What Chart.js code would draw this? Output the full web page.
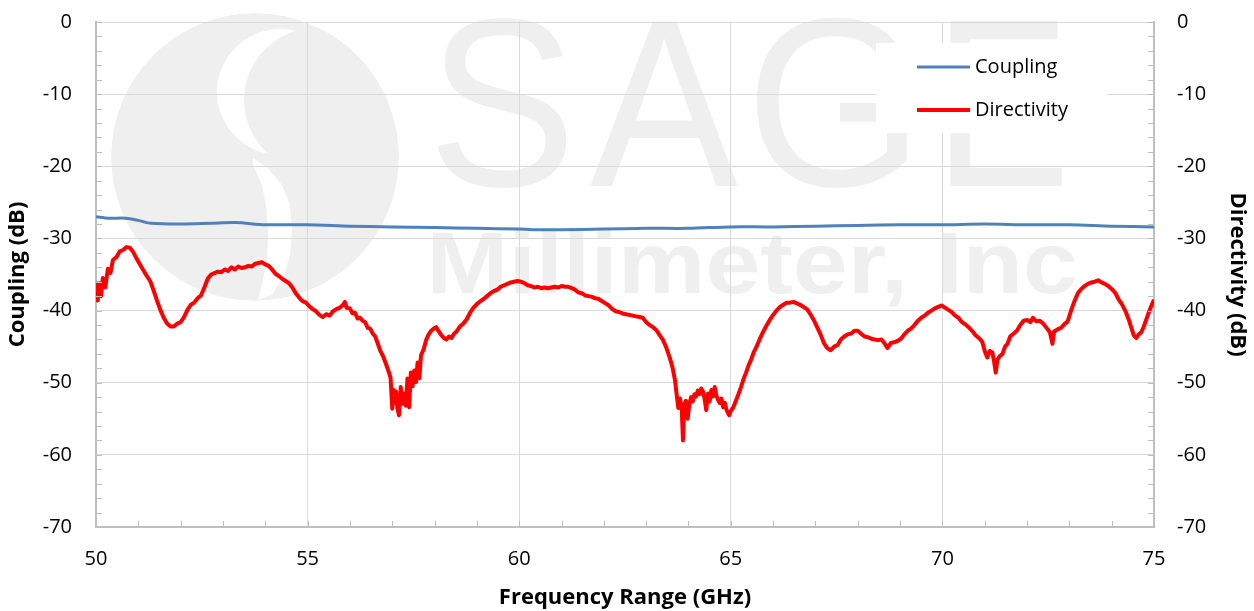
<!DOCTYPE html>
<html>
<head>
<meta charset="utf-8">
<script src="https://cdn.jsdelivr.net/npm/chart.js@4.4.1/dist/chart.umd.min.js"></script>
<style>
  html, body { margin: 0; padding: 0; background: #fff; }
  #wrap { width: 1254px; height: 611px; position: relative; }
</style>
</head>
<body>
<div id="wrap"><canvas id="chart"></canvas></div>
<script>
// axis ranges / ticks
const xTicks = [50, 55, 60, 65, 70, 75];
const yTicks = [0, -10, -20, -30, -40, -50, -60, -70];

// Coupling (dB) vs frequency (GHz)
const couplingFreq = [50.0, 50.3, 50.7, 51.0, 51.3, 52.0, 52.7, 53.3, 54.0, 55.0, 56.0, 57.0, 58.0, 59.0, 60.0, 60.5,
  61.0, 62.0, 63.0, 64.0, 65.0, 66.0, 67.0, 68.0, 69.0, 70.0, 71.0, 72.0, 73.0, 74.0, 75.0];
const couplingDb = [-27.0, -27.2, -27.2, -27.5, -27.9, -28.0, -27.9, -27.8, -28.1, -28.1, -28.3, -28.4, -28.5, -28.6, -28.7, -28.8,
  -28.8, -28.7, -28.6, -28.6, -28.4, -28.4, -28.3, -28.2, -28.1, -28.1, -28.0, -28.1, -28.1, -28.3, -28.4];

// Directivity (dB) vs frequency (GHz)
const directivityFreq = [
  50.00, 50.04, 50.08, 50.12, 50.16, 50.22, 50.28, 50.34, 50.40, 50.48, 50.56, 50.64, 50.72, 50.80, 50.88, 50.96,
  51.04, 51.12, 51.20, 51.28, 51.36, 51.44, 51.52, 51.60, 51.68, 51.76, 51.84, 51.92, 52.00, 52.08, 52.16, 52.24,
  52.32, 52.40, 52.48, 52.56, 52.64, 52.72, 52.80, 52.88, 52.96, 53.04, 53.12, 53.20, 53.28, 53.36, 53.44, 53.52,
  53.60, 53.68, 53.76, 53.84, 53.92, 54.00, 54.08, 54.16, 54.24, 54.32, 54.40, 54.48, 54.56, 54.64, 54.72, 54.80,
  54.88, 54.96, 55.04, 55.12, 55.20, 55.28, 55.36, 55.44, 55.52, 55.60, 55.68, 55.76, 55.84, 55.88, 55.92, 56.00,
  56.06, 56.12, 56.18, 56.24, 56.30, 56.36, 56.42, 56.48, 56.54, 56.60, 56.66, 56.72, 56.78, 56.84, 56.90, 56.96,
  57.00, 57.03, 57.06, 57.09, 57.12, 57.16, 57.20, 57.24, 57.28, 57.32, 57.36, 57.40, 57.44, 57.48, 57.52, 57.56,
  57.60, 57.64, 57.68, 57.74, 57.80, 57.86, 57.92, 57.98, 58.04, 58.10, 58.16, 58.22, 58.28, 58.34, 58.40, 58.46,
  58.52, 58.60, 58.68, 58.76, 58.84, 58.92, 59.00, 59.08, 59.16, 59.24, 59.32, 59.40, 59.48, 59.56, 59.64, 59.72,
  59.80, 59.88, 59.96, 60.04, 60.12, 60.20, 60.28, 60.36, 60.44, 60.52, 60.60, 60.68, 60.76, 60.84, 60.92, 61.00,
  61.08, 61.16, 61.24, 61.32, 61.40, 61.48, 61.56, 61.64, 61.72, 61.80, 61.88, 61.96, 62.04, 62.12, 62.20, 62.28,
  62.36, 62.44, 62.52, 62.60, 62.68, 62.76, 62.84, 62.92, 63.00, 63.08, 63.16, 63.24, 63.32, 63.40, 63.48, 63.56,
  63.62, 63.68, 63.72, 63.76, 63.80, 63.84, 63.87, 63.90, 63.94, 63.98, 64.02, 64.06, 64.10, 64.14, 64.18, 64.22,
  64.26, 64.30, 64.34, 64.38, 64.42, 64.46, 64.50, 64.54, 64.58, 64.62, 64.66, 64.70, 64.74, 64.78, 64.82, 64.86,
  64.90, 64.96, 65.00, 65.06, 65.12, 65.18, 65.24, 65.30, 65.36, 65.42, 65.48, 65.54, 65.60, 65.68, 65.76, 65.84,
  65.92, 66.00, 66.08, 66.16, 66.24, 66.32, 66.40, 66.48, 66.56, 66.64, 66.72, 66.80, 66.88, 66.96, 67.04, 67.12,
  67.20, 67.28, 67.36, 67.44, 67.52, 67.60, 67.68, 67.76, 67.84, 67.92, 68.00, 68.08, 68.16, 68.24, 68.32, 68.40,
  68.48, 68.56, 68.64, 68.70, 68.78, 68.86, 68.94, 69.02, 69.10, 69.18, 69.26, 69.34, 69.42, 69.50, 69.58, 69.66,
  69.74, 69.82, 69.90, 69.98, 70.06, 70.14, 70.22, 70.30, 70.38, 70.46, 70.54, 70.62, 70.70, 70.78, 70.86, 70.94,
  71.00, 71.06, 71.12, 71.18, 71.22, 71.26, 71.30, 71.36, 71.42, 71.48, 71.54, 71.60, 71.68, 71.76, 71.84, 71.92,
  72.00, 72.08, 72.14, 72.22, 72.30, 72.38, 72.46, 72.54, 72.60, 72.64, 72.72, 72.80, 72.88, 72.96, 73.04, 73.12,
  73.20, 73.28, 73.36, 73.44, 73.52, 73.60, 73.68, 73.76, 73.84, 73.92, 74.00, 74.08, 74.16, 74.24, 74.32, 74.40,
  74.46, 74.52, 74.58, 74.64, 74.70, 74.76, 74.82, 74.88, 74.94, 75.00];
const directivityDb = [
  -36.0, -38.6, -36.2, -38.0, -35.5, -36.8, -34.2, -34.8, -33.0, -32.6, -31.8, -31.6, -31.2, -31.3, -31.9, -32.8,
  -33.6, -34.4, -35.2, -35.9, -37.2, -38.6, -39.9, -41.0, -41.8, -42.2, -42.2, -41.8, -41.6, -40.9, -39.9, -39.2,
  -38.9, -38.3, -37.9, -36.8, -35.6, -35.0, -34.8, -34.6, -34.7, -34.3, -34.5, -34.0, -34.3, -33.9, -34.1, -34.0,
  -33.8, -33.9, -33.5, -33.4, -33.3, -33.6, -33.8, -34.3, -34.9, -35.2, -35.6, -35.9, -36.2, -36.8, -37.6, -38.2,
  -38.7, -38.9, -39.4, -39.8, -40.1, -40.6, -40.9, -40.5, -40.7, -40.1, -39.8, -39.6, -39.2, -38.8, -39.6, -39.7,
  -40.4, -40.3, -41.1, -41.0, -41.4, -41.6, -42.4, -42.5, -43.2, -43.6, -44.6, -45.6, -46.3, -47.2, -48.2, -49.3,
  -53.6, -51.0, -52.8, -51.2, -53.5, -54.5, -50.6, -52.9, -51.5, -53.2, -49.4, -53.4, -48.6, -50.5, -48.3, -49.9,
  -47.2, -49.4, -46.2, -45.4, -44.1, -43.3, -42.8, -42.5, -42.3, -42.9, -43.4, -43.8, -44.0, -43.6, -43.8, -43.2,
  -42.9, -42.2, -41.8, -41.2, -40.3, -39.6, -39.1, -38.7, -38.4, -38.0, -37.6, -37.3, -37.1, -36.7, -36.5, -36.3,
  -36.1, -36.0, -35.9, -36.0, -36.2, -36.5, -36.6, -36.8, -36.7, -36.9, -36.8, -36.9, -36.8, -36.7, -36.8, -36.6,
  -36.7, -36.7, -36.9, -37.1, -37.5, -37.6, -37.9, -38.0, -38.1, -38.3, -38.4, -38.7, -39.0, -39.3, -39.8, -40.1,
  -40.2, -40.4, -40.5, -40.6, -40.7, -40.8, -40.9, -41.0, -41.6, -42.0, -42.3, -42.7, -43.4, -44.1, -45.2, -46.6,
  -47.8, -49.6, -51.6, -53.5, -52.2, -53.6, -58.0, -53.0, -52.5, -55.0, -53.0, -52.0, -52.6, -51.6, -51.9, -51.1,
  -51.6, -50.8, -51.2, -52.2, -53.8, -51.5, -52.6, -51.0, -51.9, -50.6, -51.8, -52.4, -52.8, -52.2, -53.4, -52.8,
  -53.8, -54.5, -53.9, -53.4, -52.5, -51.6, -50.6, -49.5, -48.6, -47.6, -46.8, -45.8, -45.1, -44.0, -43.0, -42.1,
  -41.3, -40.6, -40.0, -39.5, -39.2, -38.9, -38.9, -38.8, -39.0, -39.2, -39.5, -39.8, -40.5, -41.3, -42.3, -43.3,
  -44.5, -45.2, -45.5, -45.0, -44.8, -44.0, -43.6, -43.3, -43.2, -42.8, -42.8, -43.2, -43.6, -43.7, -43.9, -44.0,
  -44.1, -44.0, -44.6, -45.2, -44.5, -44.4, -44.2, -43.9, -43.3, -42.8, -42.5, -42.0, -41.4, -41.0, -40.7, -40.3,
  -40.0, -39.7, -39.5, -39.3, -39.6, -39.9, -40.2, -40.7, -41.0, -41.6, -41.9, -42.3, -42.8, -43.4, -43.8, -44.3,
  -45.6, -46.5, -45.6, -45.8, -47.0, -48.6, -46.8, -46.3, -46.0, -45.0, -44.6, -43.6, -43.2, -42.8, -42.0, -41.4,
  -41.3, -41.6, -41.0, -41.5, -41.4, -41.8, -42.4, -43.0, -44.6, -42.9, -42.6, -42.4, -41.9, -41.5, -40.0, -38.7,
  -37.6, -37.0, -36.6, -36.3, -36.1, -36.0, -35.8, -36.1, -36.3, -36.6, -37.0, -37.5, -38.4, -39.1, -40.0, -41.2,
  -42.3, -43.4, -43.8, -43.3, -43.0, -42.2, -41.2, -40.2, -39.3, -38.5];

const seriesNames = ['Coupling', 'Directivity'];
const seriesColors = ['#4f81bd', '#ff0000'];

const toPoints = (xs, ys) => xs.map((x, i) => ({ x: x, y: ys[i] }));

Chart.defaults.font.family = "'Open Sans', sans-serif";
Chart.defaults.color = '#000';

// fit one glyph/string horizontally between x0 and x1
function fitText(c, str, x0, x1, baseline) {
  const m = c.measureText(str);
  const w = m.actualBoundingBoxLeft + m.actualBoundingBoxRight;
  c.save();
  c.translate(x0, 0);
  c.scale((x1 - x0) / w, 1);
  c.fillText(str, m.actualBoundingBoxLeft, baseline);
  c.restore();
}

// faint company watermark behind the plot
const watermark = {
  id: 'watermark',
  beforeDraw(chart) {
    const c = chart.ctx;
    const grey = '#efefef';
    const circle = (x, y, r, col) => {
      c.fillStyle = col;
      c.beginPath();
      c.arc(x, y, r, 0, Math.PI * 2);
      c.fill();
    };
    c.save();
    // logo: grey disc with a white "S" cut through it
    c.beginPath();
    c.arc(255, 157, 144, 0, Math.PI * 2);
    c.clip();
    circle(255, 157, 144, grey);
    circle(280, 92, 63, '#fff');
    circle(316, 100, 72, grey);
    const lower = [[253, 158], [268, 168], [282, 185], [290, 205], [292, 230], [290, 255], [284, 275],
      [272, 295], [258, 300], [262, 285], [267, 260], [268, 235], [266, 205], [262, 185], [253, 165]];
    c.fillStyle = '#fff';
    c.beginPath();
    lower.forEach(([x, y], i) => (i ? c.lineTo(x, y) : c.moveTo(x, y)));
    c.closePath();
    c.fill();
    c.restore();

    c.save();
    c.fillStyle = grey;
    c.textBaseline = 'alphabetic';
    c.font = "240px 'Liberation Sans', sans-serif";
    [['S', 437, 567], ['A', 590, 738], ['G', 757, 907], ['E', 950, 1062]]
      .forEach(([ch, x0, x1]) => fitText(c, ch, x0, x1, 186));
    c.font = "bold 87px 'Liberation Sans', sans-serif";
    fitText(c, 'Millimeter, Inc', 432, 1075, 293);
    c.restore();
  }
};

// small inside tick marks + legend box
const extras = {
  id: 'extras',
  afterDraw(chart) {
    const c = chart.ctx;
    const xs = chart.scales.x, ys = chart.scales.y, area = chart.chartArea;
    c.save();
    c.strokeStyle = '#bfbfbf';
    c.lineWidth = 1;
    c.beginPath();
    for (let v = 50; v <= 75; v += 1) {
      const px = Math.round(xs.getPixelForValue(v)) + 0.5;
      c.moveTo(px, area.bottom);
      c.lineTo(px, area.bottom - 6);
    }
    for (let v = 0; v >= -70; v -= 2) {
      const py = Math.round(ys.getPixelForValue(v)) + 0.5;
      c.moveTo(area.left, py);
      c.lineTo(area.left + 6, py);
      c.moveTo(area.right, py);
      c.lineTo(area.right - 6, py);
    }
    c.stroke();

    // legend
    c.fillStyle = '#fff';
    c.fillRect(876, 43, 231, 90);
    c.font = "20px 'Open Sans', sans-serif";
    c.textBaseline = 'middle';
    c.textAlign = 'left';
    seriesNames.forEach((name, i) => {
      const y = 67 + i * 43;
      c.strokeStyle = seriesColors[i];
      c.lineWidth = i === 0 ? 3 : 4;
      c.beginPath();
      c.moveTo(917, y);
      c.lineTo(970, y);
      c.stroke();
      c.fillStyle = '#000';
      c.fillText(name, 975, y);
    });
    c.restore();
  }
};

const tickFont = { size: 20 };
const titleFont = { size: 22, weight: 'bold' };

new Chart(document.getElementById('chart'), {
  type: 'line',
  data: {
    datasets: [
      {
        label: seriesNames[0],
        data: toPoints(couplingFreq, couplingDb),
        borderColor: seriesColors[0],
        borderWidth: 3,
        pointRadius: 0,
        tension: 0.3,
        yAxisID: 'y'
      },
      {
        label: seriesNames[1],
        data: toPoints(directivityFreq, directivityDb),
        borderColor: seriesColors[1],
        borderWidth: 4,
        pointRadius: 0,
        tension: 0,
        borderJoinStyle: 'round',
        yAxisID: 'y2'
      }
    ]
  },
  options: {
    responsive: true,
    maintainAspectRatio: false,
    animation: false,
    layout: { padding: { top: 22, left: 0, right: 0, bottom: 0 } },
    plugins: {
      legend: { display: false },
      tooltip: { enabled: false }
    },
    scales: {
      x: {
        type: 'linear',
        min: 50,
        max: 75,
        afterBuildTicks: s => { s.ticks = xTicks.map(v => ({ value: v })); },
        ticks: { font: tickFont, padding: 20, maxRotation: 0 },
        grid: { color: '#d9d9d9', drawTicks: false },
        border: { color: '#bfbfbf', width: 2 },
        title: { display: true, text: 'Frequency Range (GHz)', font: titleFont, padding: { top: 0, bottom: 0 } },
        afterFit: s => { s.height = 84; s.paddingLeft = 0; s.paddingRight = 0; }
      },
      y: {
        position: 'left',
        min: -70,
        max: 0,
        afterBuildTicks: s => { s.ticks = yTicks.map(v => ({ value: v })); },
        ticks: { font: tickFont, padding: 24 },
        grid: { color: '#d9d9d9', drawTicks: false },
        border: { color: '#bfbfbf', width: 2 },
        title: { display: true, text: 'Coupling (dB)', font: titleFont, padding: { top: 5, bottom: 0 } },
        afterFit: s => { s.width = 96; s.paddingTop = 0; s.paddingBottom = 0; }
      },
      y2: {
        position: 'right',
        min: -70,
        max: 0,
        afterBuildTicks: s => { s.ticks = yTicks.map(v => ({ value: v })); },
        ticks: { font: tickFont, padding: 23 },
        grid: { drawOnChartArea: false, drawTicks: false },
        border: { color: '#bfbfbf', width: 2 },
        title: { display: true, text: 'Directivity (dB)', font: titleFont, padding: { top: 4, bottom: 0 } },
        afterFit: s => { s.width = 100; s.paddingTop = 0; s.paddingBottom = 0; }
      }
    }
  },
  plugins: [watermark, extras]
});
</script>
</body>
</html>
